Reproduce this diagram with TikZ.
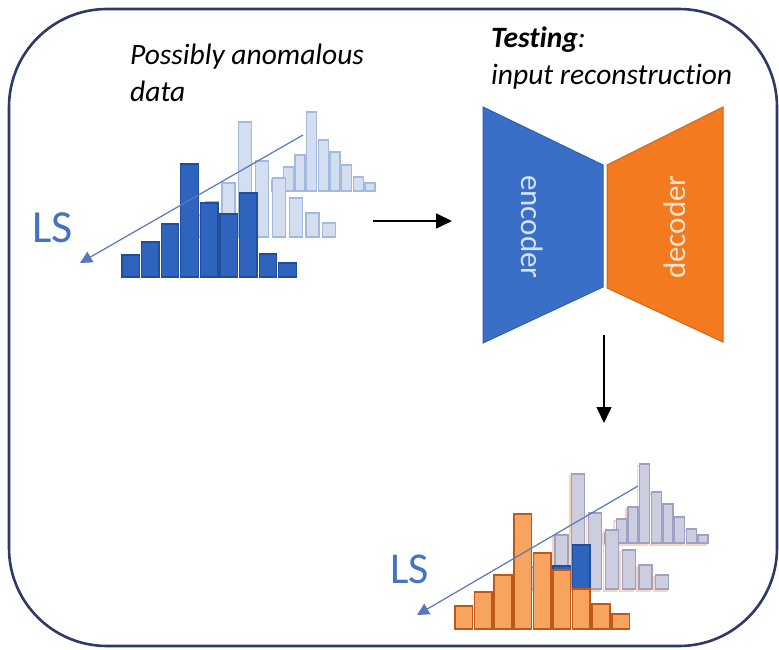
\documentclass[tikz,border=0pt]{standalone}
\usepackage{fontspec}
\setmainfont{Carlito}[Ligatures={NoCommon}]
\usetikzlibrary{arrows.meta}
\definecolor{frameC}{HTML}{2E3A66}
\definecolor{darkFill}{HTML}{2F64BE}
\definecolor{darkLine}{HTML}{1F4E9A}
\definecolor{lightFill}{HTML}{D3DEF1}
\definecolor{lightLine}{HTML}{A3BADF}
\definecolor{lavFill}{HTML}{CDCDE0}
\definecolor{lavLine}{HTML}{A0A0C4}
\definecolor{peach}{HTML}{F8D5BC}
\definecolor{orFill}{HTML}{F7A461}
\definecolor{orLine}{HTML}{C0581A}
\definecolor{encFill}{HTML}{3A6FC7}
\definecolor{encLine}{HTML}{2F5EAA}
\definecolor{decFill}{HTML}{F47A20}
\definecolor{decLine}{HTML}{D0661A}
\definecolor{encText}{HTML}{D6E2F5}
\definecolor{decText}{HTML}{FBE2CC}
\definecolor{lsC}{HTML}{4472C4}
\definecolor{lsLine}{HTML}{5779BC}
\tikzset{
  lbl/.style={font=\fontsize{29.5}{34}\selectfont\itshape, inner sep=0pt, anchor=base west},
  lstext/.style={font=\fontsize{46}{50}\selectfont, text=lsC, inner sep=0pt, anchor=base west},
  darkbar/.style={fill=darkFill, draw=darkLine, line width=1.3pt},
  lightbar/.style={fill=lightFill, draw=lightLine, line width=1.3pt},
  lavbar/.style={fill=lavFill, draw=lavLine, line width=1.3pt},
  peachbar/.style={draw=peach, line width=1.5pt},
  orbar/.style={fill=orFill, draw=orLine, line width=1.6pt},
  lsarrow/.style={lsLine, line width=1.2pt, -{Triangle[length=12pt,width=12pt]}},
  blackarrow/.style={black, line width=1.6pt, -{Triangle[length=16pt,width=15pt]}},
  enclbl/.style={font=\fontsize{31}{33}\selectfont, inner sep=0pt}
}
% #1 style, #2 x0, #3 step, #4 width, #5 bottom, #6 heights
\newcommand{\histrow}[6]{%
  \foreach \hh [count=\ii from 0] in {#6} {%
    \draw[#1] ({#2+\ii*#3},#5) rectangle ++(#4,-\hh);
  }%
}
\begin{document}
\begin{tikzpicture}[x=1pt,y=-1pt]
\useasboundingbox (0,0) rectangle (779,650);
\fill[white] (0,0) rectangle (779,650);
\draw[frameC, line width=2.6pt, rounded corners=98pt] (9,9) rectangle (777,646);

% texts
\node[lbl] (t1) at (130,65) {Possibly anomalous};
\node[lbl] (t2) at (130,102) {data};
\node[lbl] (t3) at (491,48) {\textbf{Testing}:};
\node[lbl] (t4) at (491,85) {input reconstruction};

% ---------- input histograms (top left) ----------
\histrow{lightbar}{271.5}{11.7}{10}{191}{11,24,36,79,51,39,26,14,8}
\histrow{lightbar}{188.4}{16.8}{13}{237}{22,35,54,115,76,59,39,24,14}
\histrow{darkbar}{122}{19.6}{17.5}{277}{22,35,53,113,74,63,84,23,14}
\coordinate (ls1a) at (303,135);
\coordinate (ls1b) at (80,263);
\draw[lsarrow] (ls1a) -- (ls1b);
\node[lstext] (ls1) at (32,242) {LS};

% ---------- autoencoder ----------
\draw[fill=encFill, draw=encLine, line width=1pt] (483,107) -- (603,165) -- (603,287) -- (483,343) -- cycle;
\draw[fill=decFill, draw=decLine, line width=1pt] (607,165) -- (723,107) -- (723,342) -- (607,288) -- cycle;
\node[enclbl, text=encText, rotate=-90] (enc) at (532,227) {encoder};
\node[enclbl, text=decText, rotate=90] (dec) at (675,227) {decoder};

% ---------- arrows ----------
\coordinate (h1) at (373,221);
\coordinate (h2) at (452,221);
\draw[blackarrow] (h1) -- (h2);
\coordinate (v1) at (604,335);
\coordinate (v2) at (604,423);
\draw[blackarrow] (v1) -- (v2);

% ---------- reconstructed histograms (bottom right) ----------
\begin{scope}[shift={(333,352)}]
\histrow{peachbar}{269.5}{11.7}{10}{193}{11,24,36,79,51,39,26,14,8}
\histrow{lavbar}{271.5}{11.7}{10}{191}{11,24,36,79,51,39,26,14,8}
\histrow{peachbar}{186.4}{16.8}{13}{239}{22,35,54,115,76,59,39,24,14}
\histrow{lavbar}{188.4}{16.8}{13}{237}{22,35,54,115,76,59,39,24,14}
\histrow{darkbar}{122}{19.6}{17.5}{277}{22,35,53,113,74,63,84,23,14}
\histrow{orbar}{122}{19.6}{17.5}{277}{23,37,54,115,76,59,40,25,15}
\end{scope}
\coordinate (ls2a) at (638,486);
\coordinate (ls2b) at (417,615);
\draw[lsarrow] (ls2a) -- (ls2b);
\node[lstext, font=\fontsize{44}{48}\selectfont] (ls2) at (390,583) {LS};
\end{tikzpicture}
\end{document}
